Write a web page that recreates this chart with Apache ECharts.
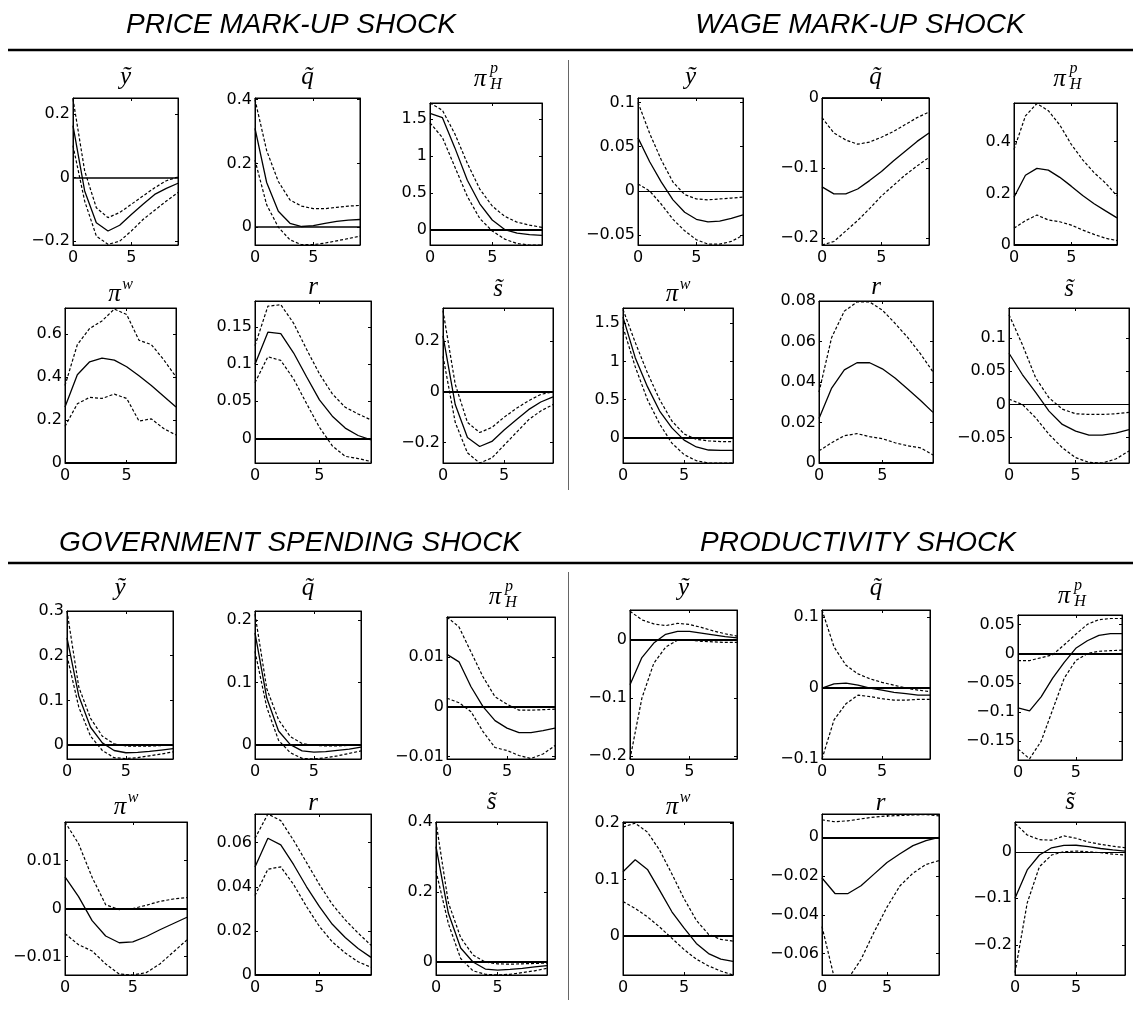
<!DOCTYPE html>
<html>
<head>
<meta charset="utf-8">
<script src="https://cdn.jsdelivr.net/npm/echarts@6/dist/echarts.min.js"></script>
<style>
html,body{margin:0;padding:0;background:#fff;}
#c{width:1133px;height:1012px;}
</style>
</head>
<body>
<div id="c"></div>
<script>
// ---------------- DATA ----------------
const horizons = [0, 1, 2, 3, 4, 5, 6, 7, 8, 9];
const xTicks = [0, 5];
const shockTitles = ['PRICE MARK-UP SHOCK', 'WAGE MARK-UP SHOCK', 'GOVERNMENT SPENDING SHOCK', 'PRODUCTIVITY SHOCK'];

// PRICE MARK-UP SHOCK
const pm_y_mid = [0.163, -0.042, -0.142, -0.168, -0.150, -0.116, -0.084, -0.053, -0.034, -0.018];
const pm_y_hi  = [0.247, 0.021, -0.095, -0.126, -0.110, -0.084, -0.058, -0.032, -0.010, 0.002];
const pm_y_lo  = [0.100, -0.074, -0.184, -0.210, -0.200, -0.168, -0.132, -0.103, -0.074, -0.047];
const pm_y_range = [-0.212, 0.25];
const pm_y_ticks = [-0.2, 0, 0.2];

const pm_q_mid = [0.31, 0.14, 0.05, 0.012, 0.002, 0.005, 0.012, 0.018, 0.022, 0.024];
const pm_q_hi  = [0.40, 0.24, 0.143, 0.085, 0.066, 0.058, 0.058, 0.062, 0.066, 0.068];
const pm_q_lo  = [0.21, 0.07, 0.0, -0.04, -0.055, -0.055, -0.05, -0.043, -0.036, -0.028];
const pm_q_range = [-0.056, 0.405];
const pm_q_ticks = [0, 0.2, 0.4];

const pm_pi_mid = [1.58, 1.52, 1.11, 0.67, 0.35, 0.13, 0.0, -0.05, -0.07, -0.08];
const pm_pi_hi  = [1.72, 1.62, 1.30, 0.90, 0.55, 0.32, 0.18, 0.10, 0.06, 0.03];
const pm_pi_lo  = [1.45, 1.25, 0.85, 0.45, 0.15, -0.02, -0.13, -0.19, -0.21, -0.21];
const pm_pi_range = [-0.21, 1.72];
const pm_pi_ticks = [0, 0.5, 1, 1.5];

const pm_w_mid = [0.26, 0.41, 0.47, 0.487, 0.478, 0.447, 0.405, 0.36, 0.31, 0.26];
const pm_w_hi  = [0.36, 0.55, 0.625, 0.66, 0.715, 0.69, 0.57, 0.55, 0.48, 0.40];
const pm_w_lo  = [0.17, 0.275, 0.305, 0.30, 0.32, 0.30, 0.195, 0.205, 0.16, 0.13];
const pm_w_range = [0, 0.72];
const pm_w_ticks = [0, 0.2, 0.4, 0.6];

const pm_r_mid = [0.100, 0.143, 0.141, 0.115, 0.083, 0.052, 0.030, 0.014, 0.004, -0.002];
const pm_r_hi  = [0.125, 0.178, 0.180, 0.155, 0.120, 0.087, 0.060, 0.042, 0.033, 0.025];
const pm_r_lo  = [0.075, 0.110, 0.105, 0.080, 0.047, 0.015, -0.010, -0.024, -0.027, -0.031];
const pm_r_range = [-0.033, 0.185];
const pm_r_ticks = [0, 0.05, 0.1, 0.15];

const pm_s_mid = [0.22, -0.05, -0.18, -0.215, -0.195, -0.15, -0.11, -0.07, -0.04, -0.02];
const pm_s_hi  = [0.32, 0.03, -0.12, -0.16, -0.14, -0.10, -0.065, -0.035, -0.01, 0.0];
const pm_s_lo  = [0.14, -0.12, -0.24, -0.28, -0.26, -0.21, -0.16, -0.11, -0.075, -0.05];
const pm_s_range = [-0.28, 0.33];
const pm_s_ticks = [-0.2, 0, 0.2];

// WAGE MARK-UP SHOCK
const wm_y_mid = [0.060, 0.033, 0.010, -0.010, -0.024, -0.032, -0.035, -0.034, -0.031, -0.027];
const wm_y_hi  = [0.100, 0.065, 0.035, 0.010, -0.004, -0.009, -0.010, -0.009, -0.008, -0.007];
const wm_y_lo  = [0.008, 0.000, -0.015, -0.032, -0.045, -0.055, -0.060, -0.060, -0.057, -0.050];
const wm_y_range = [-0.061, 0.105];
const wm_y_ticks = [-0.05, 0, 0.05, 0.1];

const wm_q_mid = [-0.127, -0.137, -0.137, -0.130, -0.118, -0.105, -0.090, -0.076, -0.062, -0.050];
const wm_q_hi  = [-0.028, -0.050, -0.060, -0.066, -0.063, -0.056, -0.048, -0.038, -0.028, -0.020];
const wm_q_lo  = [-0.210, -0.205, -0.190, -0.175, -0.158, -0.140, -0.125, -0.110, -0.097, -0.085];
const wm_q_range = [-0.21, 0];
const wm_q_ticks = [-0.2, -0.1, 0];

const wm_pi_mid = [0.185, 0.27, 0.297, 0.29, 0.262, 0.228, 0.192, 0.16, 0.132, 0.105];
const wm_pi_hi  = [0.37, 0.50, 0.548, 0.52, 0.465, 0.39, 0.33, 0.28, 0.24, 0.19];
const wm_pi_lo  = [0.065, 0.094, 0.116, 0.097, 0.09, 0.077, 0.058, 0.041, 0.026, 0.017];
const wm_pi_range = [0, 0.55];
const wm_pi_ticks = [0, 0.2, 0.4];

const wm_w_mid = [1.58, 1.05, 0.67, 0.35, 0.13, -0.03, -0.12, -0.16, -0.165, -0.165];
const wm_w_hi  = [1.68, 1.25, 0.85, 0.50, 0.22, 0.05, -0.02, -0.04, -0.05, -0.05];
const wm_w_lo  = [1.45, 0.93, 0.50, 0.18, -0.07, -0.22, -0.30, -0.33, -0.33, -0.33];
const wm_w_range = [-0.33, 1.7];
const wm_w_ticks = [0, 0.5, 1, 1.5];

const wm_r_mid = [0.022, 0.037, 0.046, 0.0495, 0.0495, 0.0465, 0.042, 0.0365, 0.031, 0.025];
const wm_r_hi  = [0.035, 0.062, 0.075, 0.0795, 0.0795, 0.0755, 0.069, 0.062, 0.054, 0.045];
const wm_r_lo  = [0.006, 0.010, 0.0135, 0.0145, 0.013, 0.012, 0.010, 0.0085, 0.0075, 0.004];
const wm_r_range = [0, 0.08];
const wm_r_ticks = [0, 0.02, 0.04, 0.06, 0.08];

const wm_s_mid = [0.077, 0.045, 0.018, -0.010, -0.030, -0.040, -0.046, -0.046, -0.043, -0.038];
const wm_s_hi  = [0.135, 0.090, 0.040, 0.010, -0.007, -0.014, -0.015, -0.015, -0.014, -0.012];
const wm_s_lo  = [0.008, 0.000, -0.020, -0.045, -0.065, -0.080, -0.087, -0.088, -0.082, -0.070];
const wm_s_range = [-0.088, 0.145];
const wm_s_ticks = [-0.05, 0, 0.05, 0.1];

// GOVERNMENT SPENDING SHOCK
const gs_y_mid = [0.24, 0.11, 0.04, 0.005, -0.012, -0.017, -0.016, -0.014, -0.011, -0.008];
const gs_y_hi  = [0.30, 0.13, 0.06, 0.020, 0.003, -0.002, -0.002, -0.002, -0.001, 0.0];
const gs_y_lo  = [0.20, 0.085, 0.02, -0.012, -0.028, -0.030, -0.028, -0.024, -0.020, -0.015];
const gs_y_range = [-0.031, 0.3];
const gs_y_ticks = [0, 0.1, 0.2, 0.3];

const gs_q_mid = [0.18, 0.075, 0.022, 0.0, -0.010, -0.012, -0.011, -0.009, -0.007, -0.004];
const gs_q_hi  = [0.21, 0.090, 0.040, 0.013, 0.002, -0.001, -0.002, -0.002, -0.001, 0.0];
const gs_q_lo  = [0.15, 0.060, 0.007, -0.013, -0.022, -0.023, -0.021, -0.018, -0.014, -0.010];
const gs_q_range = [-0.023, 0.215];
const gs_q_ticks = [0, 0.1, 0.2];

const gs_pi_mid = [0.0105, 0.009, 0.004, 0.0, -0.0028, -0.0043, -0.0052, -0.0052, -0.0048, -0.0043];
const gs_pi_hi  = [0.018, 0.016, 0.011, 0.006, 0.002, 0.0005, -0.0007, -0.0007, -0.0006, -0.0005];
const gs_pi_lo  = [0.0017, 0.0008, -0.001, -0.005, -0.0082, -0.0088, -0.0098, -0.0104, -0.0095, -0.0078];
const gs_pi_range = [-0.0105, 0.018];
const gs_pi_ticks = [-0.01, 0, 0.01];

const gs_w_mid = [0.0066, 0.0025, -0.0025, -0.0057, -0.0071, -0.0069, -0.0058, -0.0044, -0.0031, -0.0018];
const gs_w_hi  = [0.018, 0.0135, 0.0065, 0.0008, -0.0002, 0.0, 0.0007, 0.0015, 0.0020, 0.0023];
const gs_w_lo  = [-0.0052, -0.0075, -0.0088, -0.0115, -0.0136, -0.0138, -0.0133, -0.0115, -0.0090, -0.0065];
const gs_w_range = [-0.0138, 0.018];
const gs_w_ticks = [-0.01, 0, 0.01];

const gs_r_mid = [0.049, 0.062, 0.059, 0.050, 0.040, 0.031, 0.023, 0.017, 0.012, 0.008];
const gs_r_hi  = [0.062, 0.073, 0.070, 0.061, 0.051, 0.041, 0.032, 0.025, 0.019, 0.0135];
const gs_r_lo  = [0.036, 0.048, 0.049, 0.041, 0.031, 0.022, 0.015, 0.010, 0.006, 0.0035];
const gs_r_range = [0, 0.073];
const gs_r_ticks = [0, 0.02, 0.04, 0.06];

const gs_s_mid = [0.33, 0.14, 0.04, 0.0, -0.020, -0.023, -0.021, -0.018, -0.014, -0.010];
const gs_s_hi  = [0.40, 0.17, 0.07, 0.02, 0.0, -0.005, -0.006, -0.005, -0.004, -0.003];
const gs_s_lo  = [0.26, 0.11, 0.01, -0.025, -0.035, -0.037, -0.035, -0.030, -0.025, -0.018];
const gs_s_range = [-0.037, 0.4];
const gs_s_ticks = [0, 0.2, 0.4];

// PRODUCTIVITY SHOCK
const pr_y_mid = [-0.077, -0.030, -0.005, 0.010, 0.015, 0.015, 0.012, 0.009, 0.006, 0.004];
const pr_y_hi  = [0.050, 0.035, 0.028, 0.025, 0.029, 0.027, 0.022, 0.016, 0.011, 0.007];
const pr_y_lo  = [-0.205, -0.100, -0.040, -0.012, 0.000, 0.000, -0.002, -0.003, -0.004, -0.004];
const pr_y_range = [-0.205, 0.052];
const pr_y_ticks = [-0.2, -0.1, 0];

const pr_q_mid = [0.0, 0.006, 0.007, 0.004, 0.0, -0.003, -0.006, -0.008, -0.010, -0.010];
const pr_q_hi  = [0.110, 0.058, 0.032, 0.020, 0.013, 0.008, 0.004, 0.0, -0.003, -0.005];
const pr_q_lo  = [-0.100, -0.045, -0.022, -0.010, -0.012, -0.015, -0.017, -0.017, -0.016, -0.016];
const pr_q_range = [-0.1, 0.11];
const pr_q_ticks = [-0.1, 0, 0.1];

const pr_pi_mid = [-0.093, -0.098, -0.074, -0.042, -0.015, 0.009, 0.022, 0.031, 0.034, 0.034];
const pr_pi_hi  = [-0.012, -0.012, -0.007, -0.002, 0.015, 0.033, 0.050, 0.058, 0.060, 0.060];
const pr_pi_lo  = [-0.163, -0.180, -0.150, -0.096, -0.042, -0.012, 0.000, 0.004, 0.005, 0.006];
const pr_pi_range = [-0.182, 0.066];
const pr_pi_ticks = [-0.15, -0.1, -0.05, 0, 0.05];

const pr_w_mid = [0.114, 0.135, 0.118, 0.081, 0.043, 0.014, -0.013, -0.031, -0.041, -0.045];
const pr_w_hi  = [0.193, 0.200, 0.184, 0.152, 0.110, 0.066, 0.028, 0.003, -0.006, -0.009];
const pr_w_lo  = [0.061, 0.049, 0.034, 0.016, -0.004, -0.024, -0.041, -0.053, -0.062, -0.069];
const pr_w_range = [-0.069, 0.202];
const pr_w_ticks = [0, 0.1, 0.2];

const pr_r_mid = [-0.021, -0.029, -0.029, -0.025, -0.019, -0.013, -0.0085, -0.0043, -0.0017, 0.0];
const pr_r_hi  = [0.009, 0.008, 0.0085, 0.0095, 0.0104, 0.011, 0.0112, 0.0115, 0.0117, 0.011];
const pr_r_lo  = [-0.046, -0.074, -0.073, -0.063, -0.049, -0.036, -0.025, -0.0185, -0.014, -0.012];
const pr_r_range = [-0.071, 0.012];
const pr_r_ticks = [-0.06, -0.04, -0.02, 0];

const pr_s_mid = [-0.100, -0.039, -0.007, 0.0086, 0.0136, 0.014, 0.011, 0.007, 0.004, 0.0015];
const pr_s_hi  = [0.061, 0.036, 0.026, 0.025, 0.034, 0.029, 0.021, 0.016, 0.012, 0.0086];
const pr_s_lo  = [-0.260, -0.110, -0.032, -0.007, 0.000, 0.0015, 0.000, -0.002, -0.005, -0.007];
const pr_s_range = [-0.265, 0.064];
const pr_s_ticks = [-0.2, -0.1, 0];

// ---------------- LAYOUT ----------------
// box: [left, top, width, height]; title: symbol kind; ty: title centre y; zw: zero-line width
const panels = [
  {box:[73,98,105,147],  mid:pm_y_mid, hi:pm_y_hi, lo:pm_y_lo, range:pm_y_range, ticks:pm_y_ticks, title:'y', ty:77, zw:1.5},
  {box:[255,98,105,147], mid:pm_q_mid, hi:pm_q_hi, lo:pm_q_lo, range:pm_q_range, ticks:pm_q_ticks, title:'q', ty:77, zw:1.5},
  {box:[430,103,112,142],mid:pm_pi_mid,hi:pm_pi_hi,lo:pm_pi_lo,range:pm_pi_range,ticks:pm_pi_ticks,title:'pi',ty:79, zw:2},
  {box:[65,308,111,155], mid:pm_w_mid, hi:pm_w_hi, lo:pm_w_lo, range:pm_w_range, ticks:pm_w_ticks, title:'piw',ty:294, zw:2},
  {box:[255,301,116,162],mid:pm_r_mid, hi:pm_r_hi, lo:pm_r_lo, range:pm_r_range, ticks:pm_r_ticks, title:'r', ty:287, zw:2},
  {box:[443,308,110,155],mid:pm_s_mid, hi:pm_s_hi, lo:pm_s_lo, range:pm_s_range, ticks:pm_s_ticks, title:'s', ty:289, zw:2},

  {box:[638,98,105,147], mid:wm_y_mid, hi:wm_y_hi, lo:wm_y_lo, range:wm_y_range, ticks:wm_y_ticks, title:'y', ty:77, zw:1},
  {box:[822,98,107,147], mid:wm_q_mid, hi:wm_q_hi, lo:wm_q_lo, range:wm_q_range, ticks:wm_q_ticks, title:'q', ty:77, zw:1.5},
  {box:[1014,103,103,142],mid:wm_pi_mid,hi:wm_pi_hi,lo:wm_pi_lo,range:wm_pi_range,ticks:wm_pi_ticks,title:'pi',ty:79, zw:2},
  {box:[623,308,110,155],mid:wm_w_mid, hi:wm_w_hi, lo:wm_w_lo, range:wm_w_range, ticks:wm_w_ticks, title:'piw',ty:294, zw:2},
  {box:[819,301,114,162],mid:wm_r_mid, hi:wm_r_hi, lo:wm_r_lo, range:wm_r_range, ticks:wm_r_ticks, title:'r', ty:287, zw:2},
  {box:[1009,308,120,155],mid:wm_s_mid,hi:wm_s_hi, lo:wm_s_lo, range:wm_s_range, ticks:wm_s_ticks, title:'s', ty:289, zw:1},

  {box:[67,611,106,148], mid:gs_y_mid, hi:gs_y_hi, lo:gs_y_lo, range:gs_y_range, ticks:gs_y_ticks, title:'y', ty:588, zw:2},
  {box:[255,611,106,148],mid:gs_q_mid, hi:gs_q_hi, lo:gs_q_lo, range:gs_q_range, ticks:gs_q_ticks, title:'q', ty:588, zw:2},
  {box:[447,617,108,142],mid:gs_pi_mid,hi:gs_pi_hi,lo:gs_pi_lo,range:gs_pi_range,ticks:gs_pi_ticks,title:'pi',ty:597, zw:2},
  {box:[65,822,122,153], mid:gs_w_mid, hi:gs_w_hi, lo:gs_w_lo, range:gs_w_range, ticks:gs_w_ticks, title:'piw',ty:807, zw:2},
  {box:[255,814,116,161],mid:gs_r_mid, hi:gs_r_hi, lo:gs_r_lo, range:gs_r_range, ticks:gs_r_ticks, title:'r', ty:803, zw:2},
  {box:[436,822,111,153],mid:gs_s_mid, hi:gs_s_hi, lo:gs_s_lo, range:gs_s_range, ticks:gs_s_ticks, title:'s', ty:802, zw:2},

  {box:[630,610,107,149],mid:pr_y_mid, hi:pr_y_hi, lo:pr_y_lo, range:pr_y_range, ticks:pr_y_ticks, title:'y', ty:588, zw:2},
  {box:[822,610,108,149],mid:pr_q_mid, hi:pr_q_hi, lo:pr_q_lo, range:pr_q_range, ticks:pr_q_ticks, title:'q', ty:588, zw:2},
  {box:[1018,615,104,145],mid:pr_pi_mid,hi:pr_pi_hi,lo:pr_pi_lo,range:pr_pi_range,ticks:pr_pi_ticks,title:'pi',ty:596, zw:2},
  {box:[623,822,110,153],mid:pr_w_mid, hi:pr_w_hi, lo:pr_w_lo, range:pr_w_range, ticks:pr_w_ticks, title:'piw',ty:807, zw:2},
  {box:[822,814,117,161],mid:pr_r_mid, hi:pr_r_hi, lo:pr_r_lo, range:pr_r_range, ticks:pr_r_ticks, title:'r', ty:803, zw:2},
  {box:[1015,822,110,153],mid:pr_s_mid,hi:pr_s_hi, lo:pr_s_lo, range:pr_s_range, ticks:pr_s_ticks, title:'s', ty:802, zw:1}
];

const LABEL_FONT = 'DejaVu Sans';
const SERIF = 'Liberation Serif';

function fmt(v) {
  const s = String(Math.round(Math.abs(v) * 1e6) / 1e6);
  return (v < -1e-12 ? '\u2212' : '') + s;
}

const grids = [], xAxes = [], yAxes = [], series = [], graphics = [];

panels.forEach((p, i) => {
  const [l, t, w, h] = p.box;
  grids.push({left: l, top: t, width: w, height: h, show: true, borderColor: '#000', borderWidth: 1, backgroundColor: 'transparent', containLabel: false});
  xAxes.push({
    type: 'value', gridIndex: i, min: 0, max: 9, position: 'bottom',
    axisLine: {show: true, onZero: false, lineStyle: {color: '#000', width: 1}},
    axisTick: {show: true, inside: true, length: 3, customValues: xTicks, lineStyle: {color: '#000'}},
    axisLabel: {show: true, customValues: xTicks, margin: 5, color: '#000', fontFamily: LABEL_FONT, fontSize: 16, formatter: fmt},
    splitLine: {show: false}
  });
  xAxes.push({
    type: 'value', gridIndex: i, min: 0, max: 9, position: 'top',
    axisLine: {show: true, onZero: false, lineStyle: {color: '#000', width: 1}},
    axisTick: {show: true, inside: true, length: 3, customValues: xTicks, lineStyle: {color: '#000'}},
    axisLabel: {show: false}, splitLine: {show: false}
  });
  yAxes.push({
    type: 'value', gridIndex: i, min: p.range[0], max: p.range[1], position: 'left',
    axisLine: {show: true, onZero: false, lineStyle: {color: '#000', width: 1}},
    axisTick: {show: true, inside: true, length: 3, customValues: p.ticks, lineStyle: {color: '#000'}},
    axisLabel: {show: true, customValues: p.ticks, margin: 3, color: '#000', fontFamily: LABEL_FONT, fontSize: 16, formatter: fmt},
    splitLine: {show: false}
  });
  yAxes.push({
    type: 'value', gridIndex: i, min: p.range[0], max: p.range[1], position: 'right',
    axisLine: {show: true, onZero: false, lineStyle: {color: '#000', width: 1}},
    axisTick: {show: true, inside: true, length: 3, customValues: p.ticks, lineStyle: {color: '#000'}},
    axisLabel: {show: false}, splitLine: {show: false}
  });
  const xi = 2 * i, yi = 2 * i;
  const pts = arr => horizons.map((x, k) => [x, arr[k]]);
  series.push({
    type: 'line', xAxisIndex: xi, yAxisIndex: yi, data: pts(p.mid), showSymbol: false, symbol: 'none',
    lineStyle: {color: '#000', width: 1.3, type: 'solid'}, silent: true, z: 3,
    markLine: {silent: true, symbol: ['none', 'none'], label: {show: false},
      lineStyle: {color: '#000', width: p.zw, type: 'solid'}, data: [{yAxis: 0}], animation: false}
  });
  series.push({
    type: 'line', xAxisIndex: xi, yAxisIndex: yi, data: pts(p.hi), showSymbol: false, symbol: 'none',
    lineStyle: {color: '#000', width: 1.2, type: [3, 2]}, silent: true, z: 2
  });
  series.push({
    type: 'line', xAxisIndex: xi, yAxisIndex: yi, data: pts(p.lo), showSymbol: false, symbol: 'none',
    lineStyle: {color: '#000', width: 1.2, type: [3, 2]}, silent: true, z: 2
  });

  const cx = l + w / 2;
  const big = 'italic 25px "' + SERIF + '"';
  const small = 'italic 16px "' + SERIF + '"';
  const txt = (s, x, y, font) => ({type: 'text', x: x, y: y, silent: true,
    style: {text: s, font: font, fill: '#000', textAlign: 'center', textVerticalAlign: 'middle'}});
  if (p.title === 'y') graphics.push(txt('\u1EF9', cx, p.ty, big));
  else if (p.title === 'q') graphics.push(txt('q\u0303', cx, p.ty, big));
  else if (p.title === 's') graphics.push(txt('s\u0303', cx, p.ty, big));
  else if (p.title === 'r') graphics.push(txt('r', cx, p.ty, big));
  else if (p.title === 'pi') {
    graphics.push(txt('\u03C0', cx - 6, p.ty, big));
    graphics.push(txt('p', cx + 8, p.ty - 10, small));
    graphics.push(txt('H', cx + 10, p.ty + 6, small));
  } else if (p.title === 'piw') {
    graphics.push(txt('\u03C0', cx - 6, p.ty, big));
    graphics.push(txt('w', cx + 7, p.ty - 9, small));
  }
});

const headFont = 'italic 28px "Liberation Sans"';
const heads = [[291, 25], [860, 25], [290, 543], [858, 543]];
shockTitles.forEach((s, k) => {
  graphics.push({type: 'text', x: heads[k][0], y: heads[k][1], silent: true,
    style: {text: s, font: headFont, fill: '#000', textAlign: 'center', textVerticalAlign: 'middle'}});
});
[50, 563].forEach(y => graphics.push({type: 'line', silent: true,
  shape: {x1: 8, y1: y, x2: 1133, y2: y}, style: {stroke: '#000', lineWidth: 2.5}}));
[[60, 490], [572, 1000]].forEach(seg => graphics.push({type: 'line', silent: true,
  shape: {x1: 568.5, y1: seg[0], x2: 568.5, y2: seg[1]}, style: {stroke: '#666', lineWidth: 1}}));

const chart = echarts.init(document.getElementById('c'), null, {renderer: 'canvas'});
chart.setOption({
  animation: false,
  backgroundColor: '#fff',
  grid: grids,
  xAxis: xAxes,
  yAxis: yAxes,
  series: series,
  graphic: graphics
});
</script>
</body>
</html>
